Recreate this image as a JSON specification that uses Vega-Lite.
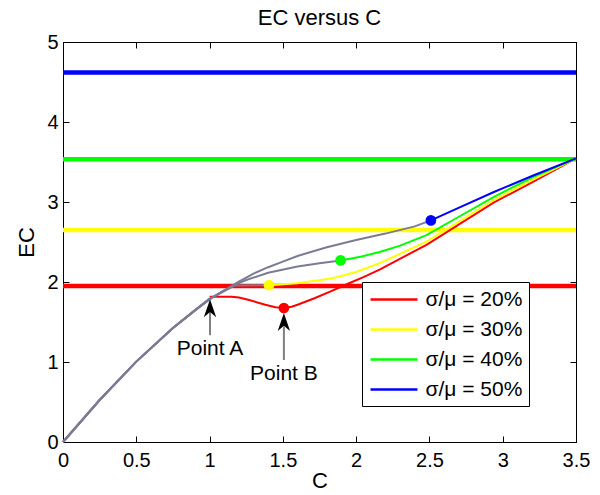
{
  "$schema": "https://vega.github.io/schema/vega-lite/v6.json",
  "width": 513,
  "height": 400,
  "autosize": "none",
  "padding": {"left": 63, "top": 42, "right": 24, "bottom": 53},
  "background": "white",
  "title": {"text": "EC versus C", "fontSize": 22, "fontWeight": "normal", "font": "Liberation Sans", "offset": 2, "color": "black"},
  "config": {
    "view": {"stroke": "black", "strokeWidth": 1},
    "font": "Liberation Sans",
    "axis": {
      "grid": false, "domainColor": "black", "tickColor": "black", "labelColor": "black", "titleColor": "black",
      "labelFont": "Liberation Sans", "titleFont": "Liberation Sans", "labelFontSize": 20, "titleFontSize": 22,
      "titleFontWeight": "normal", "tickSize": -6, "labelPadding": 11, "labelFlush": false, "labelOverlap": false, "labelBound": false
    },
    "legend": {
      "labelFont": "Liberation Sans", "labelFontSize": 21, "labelColor": "black"
    }
  },
  "datasets": {
    "curves": [
      {"s": "σ/μ = 20%", "part": "pre", "C": 0, "EC": 0},
      {"s": "σ/μ = 20%", "part": "pre", "C": 0.25, "EC": 0.525},
      {"s": "σ/μ = 20%", "part": "pre", "C": 0.5, "EC": 1.005},
      {"s": "σ/μ = 20%", "part": "pre", "C": 0.75, "EC": 1.425},
      {"s": "σ/μ = 20%", "part": "pre", "C": 0.9, "EC": 1.645},
      {"s": "σ/μ = 20%", "part": "pre", "C": 1.0, "EC": 1.795},
      {"s": "σ/μ = 20%", "part": "post", "C": 1.0, "EC": 1.815},
      {"s": "σ/μ = 20%", "part": "post", "C": 1.15, "EC": 1.815},
      {"s": "σ/μ = 20%", "part": "post", "C": 1.2, "EC": 1.805},
      {"s": "σ/μ = 20%", "part": "post", "C": 1.27, "EC": 1.775},
      {"s": "σ/μ = 20%", "part": "post", "C": 1.38, "EC": 1.715},
      {"s": "σ/μ = 20%", "part": "post", "C": 1.45, "EC": 1.685},
      {"s": "σ/μ = 20%", "part": "post", "C": 1.507, "EC": 1.675},
      {"s": "σ/μ = 20%", "part": "post", "C": 1.56, "EC": 1.69},
      {"s": "σ/μ = 20%", "part": "post", "C": 1.6, "EC": 1.715},
      {"s": "σ/μ = 20%", "part": "post", "C": 1.72, "EC": 1.8},
      {"s": "σ/μ = 20%", "part": "post", "C": 1.83, "EC": 1.885},
      {"s": "σ/μ = 20%", "part": "post", "C": 1.94, "EC": 1.975},
      {"s": "σ/μ = 20%", "part": "post", "C": 2.05, "EC": 2.06},
      {"s": "σ/μ = 20%", "part": "post", "C": 2.16, "EC": 2.155},
      {"s": "σ/μ = 20%", "part": "post", "C": 2.48, "EC": 2.465},
      {"s": "σ/μ = 20%", "part": "post", "C": 2.94, "EC": 2.995},
      {"s": "σ/μ = 20%", "part": "post", "C": 3.2, "EC": 3.245},
      {"s": "σ/μ = 20%", "part": "post", "C": 3.5, "EC": 3.545},

      {"s": "σ/μ = 30%", "part": "pre", "C": 0, "EC": 0},
      {"s": "σ/μ = 30%", "part": "pre", "C": 0.25, "EC": 0.525},
      {"s": "σ/μ = 30%", "part": "pre", "C": 0.5, "EC": 1.005},
      {"s": "σ/μ = 30%", "part": "pre", "C": 0.75, "EC": 1.425},
      {"s": "σ/μ = 30%", "part": "pre", "C": 0.9, "EC": 1.645},
      {"s": "σ/μ = 30%", "part": "pre", "C": 1.0, "EC": 1.785},
      {"s": "σ/μ = 30%", "part": "pre", "C": 1.1, "EC": 1.885},
      {"s": "σ/μ = 30%", "part": "pre", "C": 1.17, "EC": 1.955},
      {"s": "σ/μ = 30%", "part": "pre", "C": 1.3, "EC": 1.96},
      {"s": "σ/μ = 30%", "part": "pre", "C": 1.405, "EC": 1.96},
      {"s": "σ/μ = 30%", "part": "post", "C": 1.405, "EC": 1.96},
      {"s": "σ/μ = 30%", "part": "post", "C": 1.6, "EC": 1.985},
      {"s": "σ/μ = 30%", "part": "post", "C": 1.83, "EC": 2.045},
      {"s": "σ/μ = 30%", "part": "post", "C": 2.0, "EC": 2.125},
      {"s": "σ/μ = 30%", "part": "post", "C": 2.16, "EC": 2.235},
      {"s": "σ/μ = 30%", "part": "post", "C": 2.48, "EC": 2.505},
      {"s": "σ/μ = 30%", "part": "post", "C": 2.94, "EC": 3.025},
      {"s": "σ/μ = 30%", "part": "post", "C": 3.2, "EC": 3.275},
      {"s": "σ/μ = 30%", "part": "post", "C": 3.5, "EC": 3.545},

      {"s": "σ/μ = 40%", "part": "pre", "C": 0, "EC": 0},
      {"s": "σ/μ = 40%", "part": "pre", "C": 0.25, "EC": 0.525},
      {"s": "σ/μ = 40%", "part": "pre", "C": 0.5, "EC": 1.005},
      {"s": "σ/μ = 40%", "part": "pre", "C": 0.75, "EC": 1.425},
      {"s": "σ/μ = 40%", "part": "pre", "C": 0.9, "EC": 1.645},
      {"s": "σ/μ = 40%", "part": "pre", "C": 1.0, "EC": 1.785},
      {"s": "σ/μ = 40%", "part": "pre", "C": 1.1, "EC": 1.895},
      {"s": "σ/μ = 40%", "part": "pre", "C": 1.2, "EC": 1.985},
      {"s": "σ/μ = 40%", "part": "pre", "C": 1.25, "EC": 2.025},
      {"s": "σ/μ = 40%", "part": "pre", "C": 1.4, "EC": 2.115},
      {"s": "σ/μ = 40%", "part": "pre", "C": 1.6, "EC": 2.195},
      {"s": "σ/μ = 40%", "part": "pre", "C": 1.75, "EC": 2.235},
      {"s": "σ/μ = 40%", "part": "pre", "C": 1.894, "EC": 2.27},
      {"s": "σ/μ = 40%", "part": "post", "C": 1.894, "EC": 2.27},
      {"s": "σ/μ = 40%", "part": "post", "C": 2.03, "EC": 2.315},
      {"s": "σ/μ = 40%", "part": "post", "C": 2.16, "EC": 2.375},
      {"s": "σ/μ = 40%", "part": "post", "C": 2.3, "EC": 2.455},
      {"s": "σ/μ = 40%", "part": "post", "C": 2.48, "EC": 2.585},
      {"s": "σ/μ = 40%", "part": "post", "C": 2.71, "EC": 2.825},
      {"s": "σ/μ = 40%", "part": "post", "C": 2.94, "EC": 3.065},
      {"s": "σ/μ = 40%", "part": "post", "C": 3.2, "EC": 3.305},
      {"s": "σ/μ = 40%", "part": "post", "C": 3.5, "EC": 3.545},

      {"s": "σ/μ = 50%", "part": "pre", "C": 0, "EC": 0},
      {"s": "σ/μ = 50%", "part": "pre", "C": 0.25, "EC": 0.525},
      {"s": "σ/μ = 50%", "part": "pre", "C": 0.5, "EC": 1.005},
      {"s": "σ/μ = 50%", "part": "pre", "C": 0.75, "EC": 1.425},
      {"s": "σ/μ = 50%", "part": "pre", "C": 0.9, "EC": 1.645},
      {"s": "σ/μ = 50%", "part": "pre", "C": 1.0, "EC": 1.785},
      {"s": "σ/μ = 50%", "part": "pre", "C": 1.1, "EC": 1.895},
      {"s": "σ/μ = 50%", "part": "pre", "C": 1.2, "EC": 2.005},
      {"s": "σ/μ = 50%", "part": "pre", "C": 1.3, "EC": 2.105},
      {"s": "σ/μ = 50%", "part": "pre", "C": 1.4, "EC": 2.185},
      {"s": "σ/μ = 50%", "part": "pre", "C": 1.5, "EC": 2.255},
      {"s": "σ/μ = 50%", "part": "pre", "C": 1.6, "EC": 2.325},
      {"s": "σ/μ = 50%", "part": "pre", "C": 1.8, "EC": 2.435},
      {"s": "σ/μ = 50%", "part": "pre", "C": 2.0, "EC": 2.525},
      {"s": "σ/μ = 50%", "part": "pre", "C": 2.2, "EC": 2.605},
      {"s": "σ/μ = 50%", "part": "pre", "C": 2.4, "EC": 2.695},
      {"s": "σ/μ = 50%", "part": "pre", "C": 2.51, "EC": 2.77},
      {"s": "σ/μ = 50%", "part": "post", "C": 2.51, "EC": 2.77},
      {"s": "σ/μ = 50%", "part": "post", "C": 2.71, "EC": 2.935},
      {"s": "σ/μ = 50%", "part": "post", "C": 2.94, "EC": 3.125},
      {"s": "σ/μ = 50%", "part": "post", "C": 3.2, "EC": 3.325},
      {"s": "σ/μ = 50%", "part": "post", "C": 3.5, "EC": 3.545}
    ],
    "thresholds": [
      {"s": "σ/μ = 20%", "EC": 1.95},
      {"s": "σ/μ = 30%", "EC": 2.65},
      {"s": "σ/μ = 40%", "EC": 3.535},
      {"s": "σ/μ = 50%", "EC": 4.62}
    ],
    "dots": [
      {"s": "σ/μ = 20%", "C": 1.507, "EC": 1.675},
      {"s": "σ/μ = 30%", "C": 1.405, "EC": 1.96},
      {"s": "σ/μ = 40%", "C": 1.894, "EC": 2.27},
      {"s": "σ/μ = 50%", "C": 2.51, "EC": 2.77}
    ],
    "ann": [
      {"name": "Point A", "C": 1.003, "y0": 1.335, "y1": 1.625, "hy": 1.665, "ty": 1.165},
      {"name": "Point B", "C": 1.507, "y0": 1.025, "y1": 1.445, "hy": 1.495, "ty": 0.855}
    ]
  },
  "resolve": {"axis": {"x": "independent", "y": "independent"}},
  "layer": [
    {
      "data": {"name": "thresholds"},
      "mark": {"type": "rule", "strokeWidth": 4.5},
      "encoding": {
        "y": {"field": "EC", "type": "quantitative", "scale": {"domain": [0, 5], "nice": false}, "axis": null},
        "color": {"field": "s", "type": "nominal",
          "scale": {"domain": ["σ/μ = 20%", "σ/μ = 30%", "σ/μ = 40%", "σ/μ = 50%"], "range": ["#ff0000", "#ffff00", "#00ff00", "#0000ff"]},
          "legend": {"title": null, "orient": "none", "legendX": 299, "legendY": 240, "symbolType": "M-2.35,0L2.35,0", "symbolSize": 400, "symbolStrokeWidth": 2.5, "symbolOffset": 14.5, "strokeColor": "black", "fillColor": "white", "padding": 6, "rowPadding": 8, "labelOffset": 20}}
      }
    },
    {
      "data": {"name": "curves"},
      "transform": [{"filter": "datum.part == 'post'"}],
      "mark": {"type": "line", "strokeWidth": 2},
      "encoding": {
        "x": {"field": "C", "type": "quantitative", "scale": {"domain": [0, 3.5], "nice": false},
          "axis": {"title": "C", "values": [0, 0.5, 1, 1.5, 2, 2.5, 3, 3.5], "format": "~g", "labelPadding": 14, "titlePadding": 0}},
        "y": {"field": "EC", "type": "quantitative", "scale": {"domain": [0, 5], "nice": false},
          "axis": {"title": "EC", "values": [0, 1, 2, 3, 4, 5], "titlePadding": 8}},
        "color": {"field": "s", "type": "nominal",
          "scale": {"domain": ["σ/μ = 20%", "σ/μ = 30%", "σ/μ = 40%", "σ/μ = 50%"], "range": ["#ff0000", "#ffff00", "#00ff00", "#0000ff"]},
          "legend": {"title": null, "orient": "none", "legendX": 299, "legendY": 240, "symbolType": "M-2.35,0L2.35,0", "symbolSize": 400, "symbolStrokeWidth": 2.5, "symbolOffset": 14.5, "strokeColor": "black", "fillColor": "white", "padding": 6, "rowPadding": 8, "labelOffset": 20}}
      }
    },
    {
      "data": {"name": "curves"},
      "transform": [{"filter": "datum.part == 'pre'"}],
      "mark": {"type": "line", "strokeWidth": 2, "color": "#7b7b95"},
      "encoding": {
        "x": {"field": "C", "type": "quantitative", "axis": null},
        "y": {"field": "EC", "type": "quantitative", "axis": null},
        "detail": {"field": "s", "type": "nominal"}
      }
    },
    {
      "data": {"name": "dots"},
      "mark": {"type": "point", "filled": true, "opacity": 1, "size": 115, "shape": "circle"},
      "encoding": {
        "x": {"field": "C", "type": "quantitative",
          "axis": {"orient": "top", "labels": false, "title": null, "values": [0, 0.5, 1, 1.5, 2, 2.5, 3, 3.5]}},
        "y": {"field": "EC", "type": "quantitative",
          "axis": {"orient": "right", "labels": false, "title": null, "values": [0, 1, 2, 3, 4, 5]}},
        "color": {"field": "s", "type": "nominal",
          "scale": {"domain": ["σ/μ = 20%", "σ/μ = 30%", "σ/μ = 40%", "σ/μ = 50%"], "range": ["#ff0000", "#ffff00", "#00ff00", "#0000ff"]},
          "legend": {"title": null, "orient": "none", "legendX": 299, "legendY": 240, "symbolType": "M-2.35,0L2.35,0", "symbolSize": 400, "symbolStrokeWidth": 2.5, "symbolOffset": 14.5, "strokeColor": "black", "fillColor": "white", "padding": 6, "rowPadding": 8, "labelOffset": 20}}
      }
    },
    {
      "data": {"name": "ann"},
      "mark": {"type": "rule", "strokeWidth": 2, "color": "#808080"},
      "encoding": {
        "x": {"field": "C", "type": "quantitative", "axis": null},
        "y": {"field": "y0", "type": "quantitative", "axis": null},
        "y2": {"field": "y1"}
      }
    },
    {
      "data": {"name": "ann"},
      "mark": {"type": "point", "filled": true, "opacity": 1, "color": "black", "size": 361, "shape": "M0,-1L0.65,0.9L0,0.35L-0.65,0.9Z"},
      "encoding": {
        "x": {"field": "C", "type": "quantitative", "axis": null},
        "y": {"field": "hy", "type": "quantitative", "axis": null}
      }
    },
    {
      "data": {"name": "ann"},
      "mark": {"type": "text", "fontSize": 21, "font": "Liberation Sans", "color": "black", "align": "center", "baseline": "middle"},
      "encoding": {
        "x": {"field": "C", "type": "quantitative", "axis": null},
        "y": {"field": "ty", "type": "quantitative", "axis": null},
        "text": {"field": "name"}
      }
    }
  ]
}
